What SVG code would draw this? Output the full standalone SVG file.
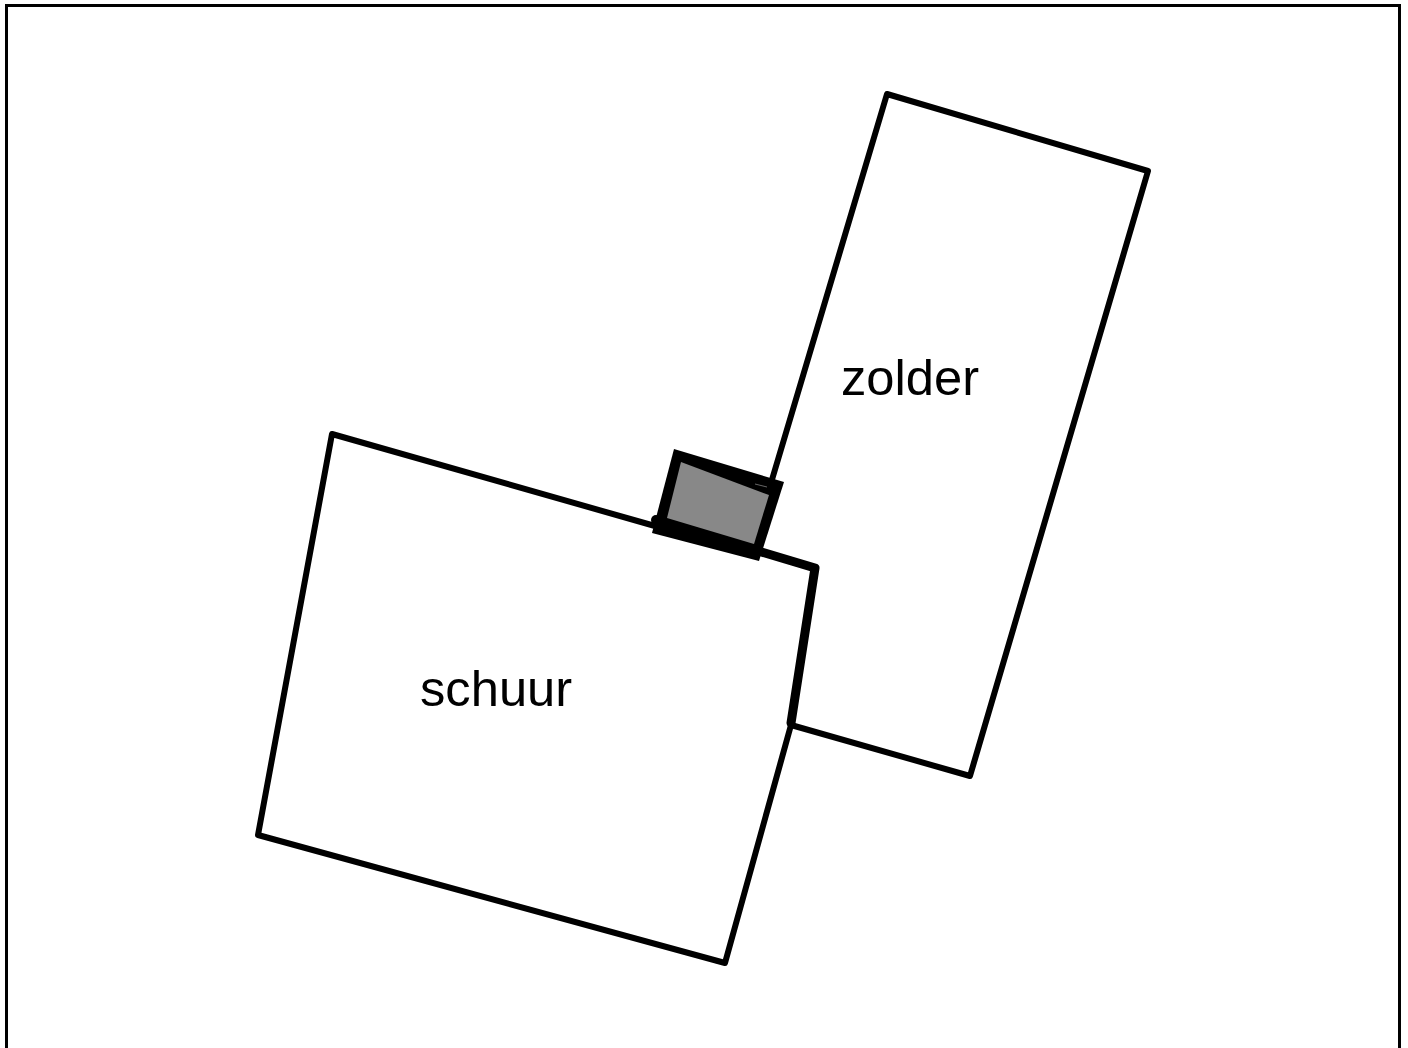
<svg xmlns="http://www.w3.org/2000/svg" width="1408" height="1048" viewBox="0 0 1408 1048">
<style>
.l{fill:none;stroke:#000;stroke-width:6;stroke-linecap:round;stroke-linejoin:round}
.h{fill:none;stroke:#000;stroke-width:9;stroke-linecap:round;stroke-linejoin:round}
text{font-family:"Liberation Sans",Arial,sans-serif;font-size:50.7px;fill:#000}
</style>
<rect width="1408" height="1048" fill="#fff"/>
<path id="frame" d="M6.500 1048V5.500H1399.500V1048" fill="none" stroke="#000" stroke-width="3"/>
<g id="zolder">
<path class="l" d="M771 483L887 94L1148 171L970 776L791 725"/>
<text x="841" y="395">zolder</text>
</g>
<g id="schuur">
<path class="l" d="M655 526L332 434L258 835L725 963L791 725"/>
<path class="h" d="M755 550L815 568L791 723"/>
<text x="420" y="706">schuur</text>
</g>
<g id="door">
<circle cx="656" cy="520" r="5"/>
<path d="M674 449L784 482L759 561L652 533Z" fill="#000"/>
<path d="M681 462L769 495L754 544L667 518Z" fill="#888"/>
<path d="M755 484L767 487" fill="none" stroke="#666" stroke-width="1"/>
</g>
</svg>
